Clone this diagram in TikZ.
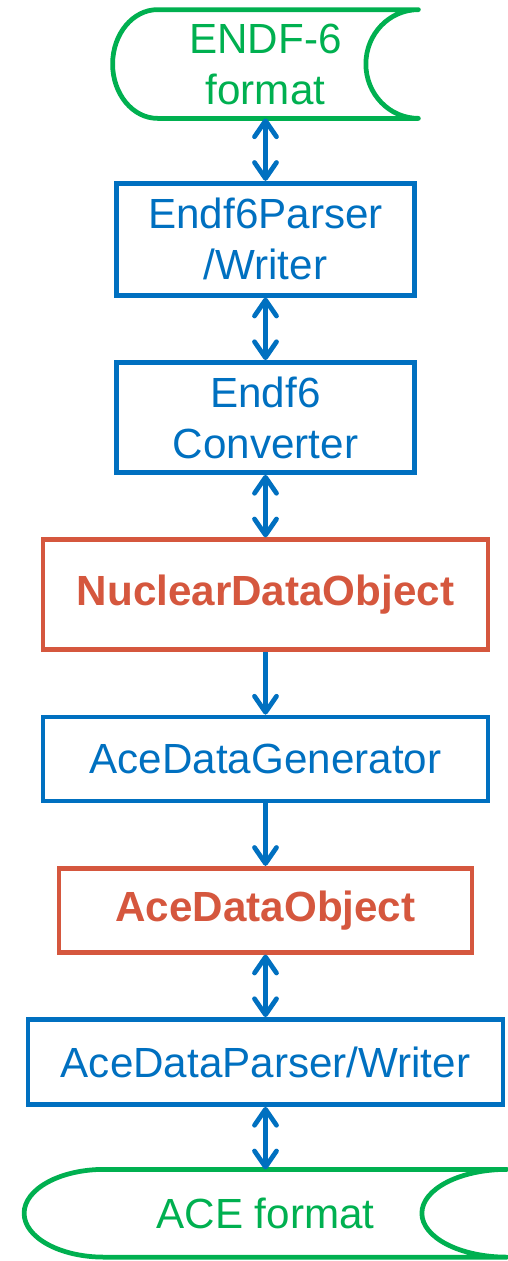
\documentclass[tikz,border=0pt]{standalone}
\usepackage{fontspec}
\setmainfont{Liberation Sans}
\usetikzlibrary{arrows.meta,positioning,calc}
\definecolor{flowblue}{HTML}{0070C0}
\definecolor{flowgreen}{HTML}{00B050}
\definecolor{flowred}{HTML}{D5573E}
\tikzset{
  proc/.style={draw=flowblue,text=flowblue,align=center,minimum width=5.96cm,minimum height=2.2cm,inner sep=1pt},
  dataobj/.style={proc,draw=flowred,text=flowred,font=\fontsize{24}{29}\selectfont\bfseries},
  store/.style={text=flowgreen,align=center,inner sep=1pt},
  storeline/.style={draw=flowgreen,line cap=round,line join=round},
  flow/.style={draw=flowblue,-{Straight Barb[length=3.2mm,width=4.4mm,round]}},
  dflow/.style={flow,{Straight Barb[length=3.2mm,width=4.4mm,round]}-{Straight Barb[length=3.2mm,width=4.4mm,round]}}
}
% stored data outline: node name, left radius, right radius
\newcommand{\storeoutline}[3]{%
  \draw[storeline] let \p1=(#1.north), \p2=(#1.south), \n1={0.5*(\y1-\y2)} in
    (#1.north east) -- ($(#1.north west)+(#2,0)$)
    arc[start angle=90,end angle=270,x radius=#2,y radius=\n1]
    -- (#1.south east)
    arc[start angle=270,end angle=90,x radius=#3,y radius=\n1];}

\begin{document}
\begin{tikzpicture}[line width=0.095cm,font=\fontsize{24}{29}\selectfont,node distance=1.25cm]
  \useasboundingbox (0,0) rectangle (10.16,-25.22);
  \node[store,minimum width=6.02cm,minimum height=2.08cm] (endf) at (5.31,-1.28) {ENDF-6\\format};
  \node[proc,below=of endf,minimum height=2.24cm] (parser) {Endf6Parser\\/Writer};
  \node[proc,below=of parser] (conv) {Endf6\\Converter};
  \node[dataobj,below=of conv,minimum width=8.9cm] (ndo) {NuclearDataObject};
  \node[proc,below=of ndo,minimum width=8.9cm,minimum height=1.68cm] (gen) {AceDataGenerator};
  \node[dataobj,below=of gen,minimum width=8.26cm,minimum height=1.68cm] (ado) {AceDataObject};
  \node[proc,below=of ado,minimum width=9.5cm,minimum height=1.7cm] (aceio) {AceDataParser/Writer};
  \node[store,below=of aceio,minimum width=9.56cm,minimum height=1.66cm] (ace) {ACE format};
  \storeoutline{endf}{0.9cm}{1.05cm}
  \storeoutline{ace}{1.6cm}{1.7cm}
  \draw[dflow] (endf) -- (parser);
  \draw[dflow] (parser) -- (conv);
  \draw[dflow] (conv) -- (ndo);
  \draw[flow] (ndo) -- (gen);
  \draw[flow] (gen) -- (ado);
  \draw[dflow] (ado) -- (aceio);
  \draw[dflow] (aceio) -- (ace);
\end{tikzpicture}
\end{document}
